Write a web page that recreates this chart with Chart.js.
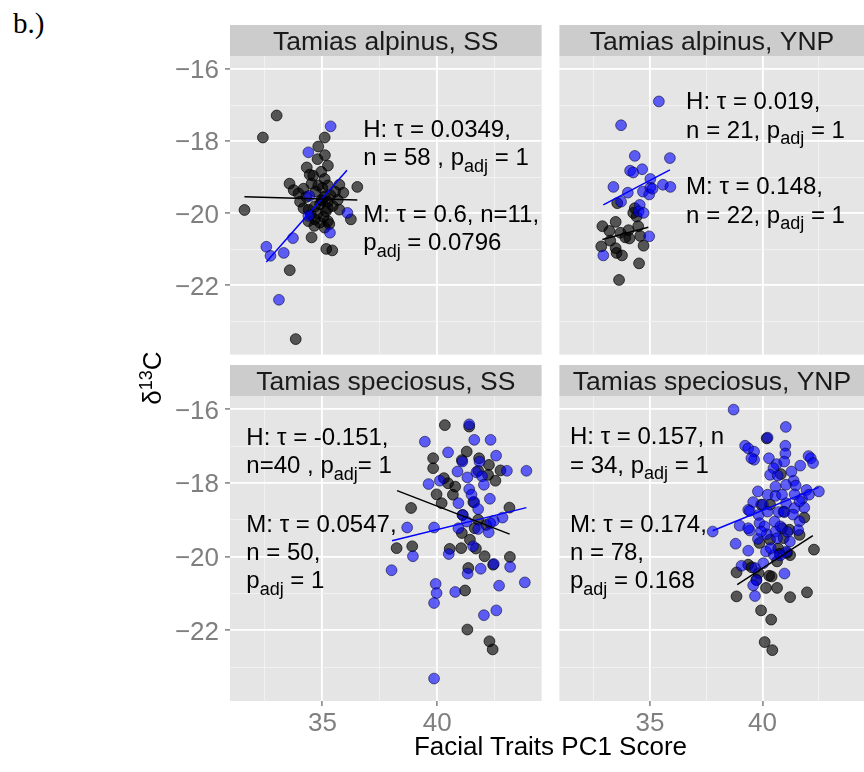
<!DOCTYPE html>
<html>
<head>
<meta charset="utf-8">
<script src="https://cdn.jsdelivr.net/npm/chart.js@4.4.1/dist/chart.umd.min.js"></script>
<style>
  html, body { margin: 0; padding: 0; background: #ffffff; overflow: hidden; }
  body { width: 864px; height: 772px; position: relative; font-family: "Liberation Sans", Arial, sans-serif; }
  canvas { position: absolute; }
  #tag { position: absolute; left: 13px; top: 7px; font: 29px "Liberation Serif", "Times New Roman", serif; color: #000; }
  #xtitle { position: absolute; left: 230px; width: 641px; top: 731px; text-align: center; font-size: 26px; color: #000; }
  #ytitle { position: absolute; left: 52px; top: 361px; width: 200px; height: 34px; line-height: 34px;
            text-align: center; font-size: 26px; color: #000; transform: rotate(-90deg); }
  #ytitle sup { font-size: 18px; vertical-align: 9px; line-height: 0; }
</style>
</head>
<body>
<div id="tag">b.)</div>
<canvas id="c0" width="398" height="336" style="left:150px; top:25px;"></canvas>
<canvas id="c1" width="318" height="336" style="left:553px; top:25px;"></canvas>
<canvas id="c2" width="398" height="375" style="left:150px; top:365px;"></canvas>
<canvas id="c3" width="318" height="375" style="left:553px; top:365px;"></canvas>
<div id="xtitle">Facial Traits PC1 Score</div>
<div id="ytitle">δ<sup>13</sup>C</div>

<script>
// ===== Axes =====
const xMin = 30.98, xMax = 44.54;
const yMin = -23.92, yMax = -15.64;
const xMajorTicks = [35, 40];
const xMinorTicks = [32.5, 37.5, 42.5];
const xTickLabels = ["35", "40"];
const yMajorTicks = [-16, -18, -20, -22];
const yMinorTicks = [-17, -19, -21, -23];
const yTickLabels = ["\u221216", "\u221218", "\u221220", "\u221222"];

const panelTitles = ["Tamias alpinus, SS", "Tamias alpinus, YNP", "Tamias speciosus, SS", "Tamias speciosus, YNP"];

// ===== Tamias alpinus, SS =====
const alpSS_H = [[33.01,-17.29],[32.41,-17.90],[35.10,-17.90],[34.82,-18.15],[35.11,-18.39],[34.79,-18.50],[34.32,-18.73],[35.24,-18.68],[34.45,-18.93],[34.60,-18.96],
  [35.10,-19.05],[33.57,-19.18],[34.82,-19.23],[35.24,-19.23],[35.74,-19.21],[36.52,-19.27],[35.91,-19.43],[33.96,-19.45],[33.75,-19.36],[34.18,-19.32],
  [35.10,-19.54],[34.96,-19.63],[35.24,-19.68],[35.67,-19.63],[34.03,-19.68],[34.18,-19.86],[34.67,-19.81],[35.24,-19.86],[35.74,-19.90],[31.61,-19.91],
  [36.24,-20.17],[34.39,-20.22],[34.67,-20.17],[34.89,-20.26],[35.24,-20.22],[34.53,-20.67],[35.17,-20.99],[35.43,-21.03],[33.58,-21.58],[33.84,-23.49],
  [34.53,-19.18],[34.70,-19.40],[35.00,-19.30],[34.90,-19.75],[35.15,-19.95],[34.50,-20.05],[35.35,-19.50],[34.80,-20.00],[35.05,-20.10],[34.30,-19.55],
  [35.45,-19.80],[34.65,-20.35],[35.10,-20.40],[35.55,-19.40],[34.95,-18.85],[35.30,-20.30],[34.40,-19.90],[35.00,-19.65]];
const alpSS_M = [[35.36,-17.59],[34.39,-18.31],[34.43,-19.52],[34.39,-20.07],[36.09,-19.99],[35.33,-20.54],[33.72,-20.69],[32.56,-20.93],[32.74,-21.18],[33.32,-21.10],[33.11,-22.40]];
const alpSS_fitH = [[31.61,-19.54],[36.52,-19.63]];
const alpSS_fitM = [[32.56,-21.35],[36.07,-18.81]];

// ===== Tamias alpinus, YNP =====
const alpYNP_H = [[33.55,-19.72],[33.48,-20.24],[32.89,-20.36],[33.20,-20.49],[33.69,-20.54],[34.05,-20.47],[34.41,-20.09],[34.26,-19.99],[34.48,-20.36],[34.57,-20.63],
  [34.09,-20.70],[32.84,-20.92],[33.48,-20.97],[33.52,-21.10],[33.76,-21.17],[34.72,-20.90],[34.52,-21.39],[33.63,-21.85],[33.24,-20.76],[34.33,-19.86],[33.91,-20.67]];
const alpYNP_M = [[35.40,-16.90],[33.72,-17.56],[34.33,-18.41],[35.89,-18.47],[34.12,-18.82],[34.26,-18.87],[34.66,-18.78],[35.02,-19.05],[33.38,-19.27],[34.02,-19.43],
  [34.69,-19.40],[35.02,-19.29],[35.58,-19.21],[35.91,-19.27],[34.97,-19.48],[33.72,-19.68],[34.55,-19.77],[34.50,-19.95],[34.72,-19.99],[34.97,-20.64],
  [32.93,-21.17],[35.12,-19.32]];
const alpYNP_fitH = [[32.89,-20.73],[34.93,-20.39]];
const alpYNP_fitM = [[32.93,-19.77],[35.89,-18.80]];

// ===== Tamias speciosus, SS =====
const speSS_H = [[40.33,-16.43],[41.39,-16.47],[39.82,-17.33],[39.82,-17.60],[41.07,-17.38],[41.28,-17.15],[41.82,-17.33],[42.25,-17.51],[42.75,-17.66],[40.29,-17.87],
  [40.47,-18.01],[39.97,-18.31],[40.68,-18.32],[40.78,-18.10],[40.19,-18.55],[38.86,-18.68],[41.57,-18.52],[42.21,-17.78],[42.53,-17.94],[43.14,-18.67],
  [41.10,-18.87],[41.78,-19.00],[41.07,-19.36],[41.63,-19.23],[42.13,-19.14],[41.42,-19.54],[41.04,-19.77],[40.54,-19.79],[41.68,-19.78],[38.23,-19.77],
  [38.91,-19.72],[42.06,-19.99],[42.43,-20.22],[43.16,-20.01],[41.35,-20.31],[41.21,-20.92],[41.31,-21.98],[42.27,-22.30],[42.41,-22.52],[41.78,-17.67]];
const speSS_M = [[41.39,-16.41],[39.46,-16.88],[41.61,-16.83],[42.32,-16.83],[40.47,-17.17],[42.56,-17.26],[41.09,-17.42],[41.84,-17.42],[40.88,-17.69],[41.70,-17.71],
  [43.03,-17.67],[43.88,-17.67],[40.11,-17.94],[41.31,-17.85],[41.95,-17.82],[42.03,-18.05],[39.62,-18.03],[41.39,-18.17],[40.92,-18.55],[42.29,-18.43],
  [41.61,-18.52],[41.78,-18.71],[41.11,-18.87],[42.84,-18.94],[42.46,-19.03],[38.69,-19.21],[39.86,-19.21],[41.28,-19.05],[41.78,-19.25],[42.30,-19.09],
  [42.24,-19.34],[41.56,-19.72],[40.50,-19.93],[38.94,-19.99],[42.46,-20.20],[41.89,-20.33],[43.17,-20.28],[41.32,-20.46],[38.01,-20.37],[39.93,-20.74],
  [39.97,-20.99],[40.78,-20.96],[42.69,-20.79],[43.81,-20.70],[39.86,-21.26],[42.57,-21.46],[42.03,-21.59],[39.86,-23.31],[40.92,-19.23],[41.49,-18.32]];
const speSS_fitH = [[38.25,-18.21],[43.15,-19.39]];
const speSS_fitM = [[38.03,-19.57],[43.88,-18.67]];

// ===== Tamias speciosus, YNP =====
const speYNP_H = [[40.19,-16.79],[40.82,-17.76],[40.34,-18.59],[40.94,-18.78],[39.95,-18.59],[41.86,-18.94],[40.88,-19.23],[41.20,-19.27],[40.34,-19.54],[40.70,-19.78],
  [41.09,-19.90],[41.23,-19.96],[40.77,-19.92],[42.29,-19.81],[38.85,-20.43],[39.52,-20.29],[39.83,-20.45],[40.30,-20.52],[40.41,-20.54],[40.16,-20.85],
  [40.65,-20.85],[38.85,-21.08],[41.23,-21.10],[41.98,-20.97],[39.94,-21.46],[40.39,-21.71],[40.10,-22.32],[40.44,-22.54],[39.87,-19.63],[39.37,-20.22],
  [40.94,-19.50],[41.65,-19.41],[39.73,-20.63],[40.65,-20.13]];
const speYNP_M = [[38.72,-16.01],[41.04,-16.48],[40.23,-16.77],[39.23,-16.99],[39.37,-17.06],[39.63,-17.15],[41.02,-16.99],[41.02,-17.20],[39.63,-17.37],[40.29,-17.33],
  [40.63,-17.49],[40.97,-17.42],[42.05,-17.27],[42.15,-17.33],[42.25,-17.46],[41.68,-17.53],[40.49,-17.60],[40.34,-17.78],[40.68,-17.80],[41.39,-17.94],
  [41.05,-18.05],[41.48,-18.07],[40.58,-18.10],[41.96,-18.19],[42.51,-18.23],[39.80,-18.23],[40.23,-18.32],[40.58,-18.35],[41.43,-18.31],[41.76,-18.43],
  [39.59,-18.52],[40.02,-18.59],[41.05,-18.55],[41.86,-18.67],[39.37,-18.73],[40.72,-18.79],[40.98,-18.79],[41.43,-18.68],[39.44,-18.76],[39.83,-18.87],
  [39.87,-19.09],[40.54,-19.05],[41.65,-19.04],[38.99,-19.16],[39.44,-19.29],[41.59,-19.28],[37.79,-19.32],[40.58,-19.32],[40.19,-19.39],[41.11,-19.33],
  [39.80,-19.52],[40.65,-19.50],[38.81,-19.65],[39.37,-19.84],[40.16,-19.86],[41.07,-19.86],[40.79,-19.97],[40.51,-19.96],[40.04,-20.18],[39.07,-20.25],
  [39.67,-20.31],[40.98,-20.46],[39.74,-20.64],[39.59,-20.78],[39.67,-21.07],[42.07,-18.32],[41.36,-18.86],[40.80,-19.18],[40.09,-19.18],[39.51,-17.33],
  [41.29,-17.69],[41.65,-18.50],[40.37,-19.77],[39.37,-19.23],[39.94,-19.32],[40.87,-18.32],[41.22,-19.59],[40.23,-18.78]];
const speYNP_fitH = [[38.88,-20.76],[42.24,-19.43]];
const speYNP_fitM = [[37.79,-19.30],[42.50,-18.12]];

// ===== Test results (text placed at data coordinates) =====
const notesAlpSS = [
  { x: 36.78, y: -17.88, lines: ["H: \u03c4 = 0.0349,", "n = 58 , p_adj = 1"] },
  { x: 36.78, y: -20.24, lines: ["M: \u03c4 = 0.6, n=11,", "p_adj = 0.0796"] }
];
const notesAlpYNP = [
  { x: 36.61, y: -17.12, lines: ["H: \u03c4 = 0.019,", "n = 21, p_adj = 1"] },
  { x: 36.61, y: -19.48, lines: ["M: \u03c4 = 0.148,", "n = 22, p_adj = 1"] }
];
const notesSpeSS = [
  { x: 31.69, y: -16.97, lines: ["H: \u03c4 = -0.151,", "n=40 , p_adj= 1"] },
  { x: 31.69, y: -19.32, lines: ["M: \u03c4 = 0.0547,", "n = 50,", "p_adj = 1"] }
];
const notesSpeYNP = [
  { x: 31.45, y: -16.95, lines: ["H: \u03c4 = 0.157, n", "= 34, p_adj = 1"] },
  { x: 31.45, y: -19.32, lines: ["M: \u03c4 = 0.174,", "n = 78,", "p_adj = 0.168"] }
];

const FONT = '"Liberation Sans", Arial, Helvetica, sans-serif';

// ===== Helpers =====
function toXY(pairs) {
    return pairs.map(function(p) { return { x: p[0], y: p[1] }; });
}

// draws a line of text, turning "_adj" into a subscript
function drawRich(ctx, str, x, y, size) {
    const parts = str.split("_adj");
    let cx = x;
    parts.forEach(function(part, i) {
        ctx.font = size + "px " + FONT;
        ctx.fillText(part, cx, y);
        cx += ctx.measureText(part).width;
        if (i < parts.length - 1) {
            ctx.font = Math.round(size * 0.74) + "px " + FONT;
            ctx.fillText("adj", cx, y + 6.5);
            cx += ctx.measureText("adj").width;
        }
    });
}

// ===== Facet plugin: panel background, strip, tick labels, notes =====
const facetPlugin = {
    id: "facet",
    beforeDraw(chart, args, opts) {
        const ctx = chart.ctx;
        const a = chart.chartArea;
        ctx.save();
        ctx.fillStyle = "#E5E5E5";
        ctx.fillRect(a.left, a.top, a.right - a.left, a.bottom - a.top);
        ctx.fillStyle = "#CCCCCC";
        ctx.fillRect(a.left, 0, a.right - a.left, a.top);
        ctx.fillStyle = "#1A1A1A";
        ctx.font = "26.5px " + FONT;
        ctx.textAlign = "center";
        ctx.textBaseline = "alphabetic";
        ctx.fillText(opts.title, (a.left + a.right) / 2, a.top / 2 + 9.5);
        ctx.restore();
    },
    afterDraw(chart, args, opts) {
        const ctx = chart.ctx;
        const a = chart.chartArea;
        const xs = chart.scales.x;
        const ys = chart.scales.y;
        ctx.save();
        ctx.fillStyle = "#7F7F7F";
        ctx.font = "26px " + FONT;
        if (opts.showY) {
            ctx.textAlign = "right";
            yMajorTicks.forEach(function(v, i) {
                ctx.fillText(yTickLabels[i], a.left - 11, ys.getPixelForValue(v) + 9.3);
            });
        }
        if (opts.showX) {
            ctx.textAlign = "center";
            xMajorTicks.forEach(function(v, i) {
                ctx.fillText(xTickLabels[i], xs.getPixelForValue(v), a.bottom + 30);
            });
        }
        ctx.fillStyle = "#000000";
        ctx.textAlign = "left";
        opts.notes.forEach(function(note) {
            const x = xs.getPixelForValue(note.x);
            const y = ys.getPixelForValue(note.y);
            note.lines.forEach(function(line, i) {
                drawRich(ctx, line, x, y + i * 28.3, 24);
            });
        });
        ctx.restore();
    }
};

// ===== Build one facet =====
function makePanel(id, title, hPts, mPts, fitH, fitM, notes, col, row) {
    const isMajorX = function(c) { return xMajorTicks.indexOf(c.tick.value) >= 0; };
    const isMajorY = function(c) { return yMajorTicks.indexOf(c.tick.value) >= 0; };

    new Chart(document.getElementById(id), {
        type: "scatter",
        data: {
            datasets: [
                { data: toXY(fitH), showLine: true, borderColor: "#000000", borderWidth: 1.5, pointRadius: 0, order: 0 },
                { data: toXY(fitM), showLine: true, borderColor: "#0000FF", borderWidth: 1.5, pointRadius: 0, order: 0 },
                { data: toXY(mPts), backgroundColor: "rgba(0,0,255,0.6)", borderColor: "rgba(0,0,40,0.55)", borderWidth: 1, pointRadius: 5.4, order: 1 },
                { data: toXY(hPts), backgroundColor: "rgba(0,0,0,0.63)", borderColor: "rgba(0,0,0,0.7)", borderWidth: 1, pointRadius: 5.4, order: 2 }
            ]
        },
        options: {
            responsive: false,
            animation: false,
            layout: { padding: { top: 31, left: 0, right: 0, bottom: 0 } },
            plugins: {
                legend: { display: false },
                tooltip: { enabled: false },
                facet: { title: title, notes: notes, showX: row === 1, showY: col === 0 }
            },
            scales: {
                x: {
                    type: "linear",
                    min: xMin,
                    max: xMax,
                    border: { display: false },
                    ticks: { display: false },
                    afterBuildTicks: function(s) {
                        s.ticks = xMinorTicks.concat(xMajorTicks).sort().map(function(v) { return { value: v }; });
                    },
                    afterFit: function(s) { s.height = row === 1 ? 39 : 0; },
                    grid: {
                        color: function(c) { return isMajorX(c) ? "#FFFFFF" : "#F2F2F2"; },
                        lineWidth: function(c) { return isMajorX(c) ? 1.8 : 0.9; },
                        drawTicks: row === 1,
                        tickLength: 5,
                        tickWidth: 1.5,
                        tickColor: function(c) { return isMajorX(c) ? "#7F7F7F" : "rgba(0,0,0,0)"; }
                    }
                },
                y: {
                    type: "linear",
                    min: yMin,
                    max: yMax,
                    border: { display: false },
                    ticks: { display: false },
                    afterBuildTicks: function(s) {
                        s.ticks = yMinorTicks.concat(yMajorTicks).map(function(v) { return { value: v }; });
                    },
                    afterFit: function(s) { s.width = col === 0 ? 80 : 0; },
                    grid: {
                        color: function(c) { return isMajorY(c) ? "#FFFFFF" : "#F2F2F2"; },
                        lineWidth: function(c) { return isMajorY(c) ? 1.8 : 0.9; },
                        drawTicks: col === 0,
                        tickLength: 5,
                        tickWidth: 1.5,
                        tickColor: function(c) { return isMajorY(c) ? "#7F7F7F" : "rgba(0,0,0,0)"; }
                    }
                }
            }
        },
        plugins: [facetPlugin]
    });
}

makePanel("c0", panelTitles[0], alpSS_H, alpSS_M, alpSS_fitH, alpSS_fitM, notesAlpSS, 0, 0);
makePanel("c1", panelTitles[1], alpYNP_H, alpYNP_M, alpYNP_fitH, alpYNP_fitM, notesAlpYNP, 1, 0);
makePanel("c2", panelTitles[2], speSS_H, speSS_M, speSS_fitH, speSS_fitM, notesSpeSS, 0, 1);
makePanel("c3", panelTitles[3], speYNP_H, speYNP_M, speYNP_fitH, speYNP_fitM, notesSpeYNP, 1, 1);
</script>
</body>
</html>
